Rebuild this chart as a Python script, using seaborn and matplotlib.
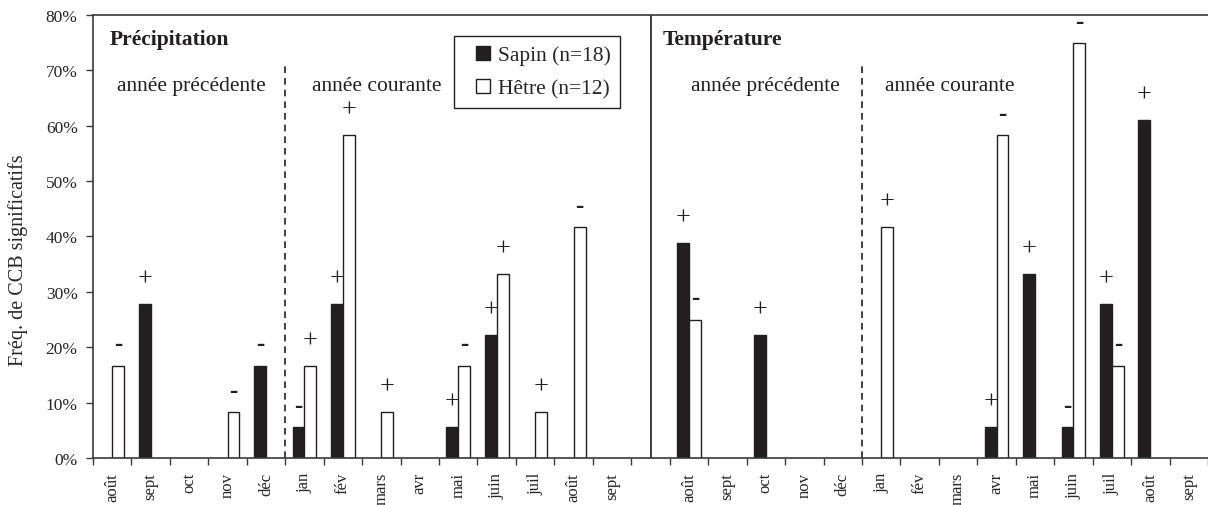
import numpy as np
import pandas as pd
import matplotlib
matplotlib.use("Agg")
import matplotlib.pyplot as plt
from matplotlib.patches import Patch, Rectangle
from matplotlib.legend_handler import HandlerPatch
from matplotlib.ticker import MultipleLocator, FixedLocator, PercentFormatter
import seaborn as sns

# Months of the growth window (previous year Aug -> current year Sept)
months = ["août", "sept", "oct", "nov", "déc", "jan", "fév", "mars", "avr",
          "mai", "juin", "juil", "août", "sept"]

# Frequency (%) of significant response-function coefficients
precip_sapin = [None, 27.8, None, None, 16.7, 5.6, 27.8, None, None, 5.6, 22.2, None, None, None]
precip_hetre = [16.7, None, None, 8.3, None, 16.7, 58.3, 8.3, None, 16.7, 33.3, 8.3, 41.7, None]
temp_sapin = [38.9, None, 22.2, None, None, None, None, None, 5.6, 33.3, 5.6, 27.8, 61.1, None]
temp_hetre = [25.0, None, None, None, None, 41.7, None, None, 58.3, None, 75.0, 16.7, None, None]

# Sign of the coefficients
precip_sapin_sign = ["", "+", "", "", "-", "-", "+", "", "", "+", "+", "", "", ""]
precip_hetre_sign = ["-", "", "", "-", "", "+", "+", "+", "", "-", "+", "+", "-", ""]
temp_sapin_sign = ["+", "", "+", "", "", "", "", "", "+", "+", "-", "+", "+", ""]
temp_hetre_sign = ["-", "", "", "", "", "+", "", "", "-", "", "-", "-", "", ""]

species = ["Sapin (n=18)", "Hêtre (n=12)"]
colors = {"Sapin (n=18)": "#231f20", "Hêtre (n=12)": "white"}

# Two blocks of 14 months separated by one empty slot
gap = 1
n = len(months)
sapin_all = precip_sapin + [None] * gap + temp_sapin
hetre_all = precip_hetre + [None] * gap + temp_hetre
sapin_sign = precip_sapin_sign + [""] * gap + temp_sapin_sign
hetre_sign = precip_hetre_sign + [""] * gap + temp_hetre_sign
labels = months + [""] * gap + months
npos = len(labels)

rows = []
for i in range(npos):
    if sapin_all[i] is not None:
        rows.append({"pos": i, "esp": species[0], "val": sapin_all[i]})
    if hetre_all[i] is not None:
        rows.append({"pos": i, "esp": species[1], "val": hetre_all[i]})
df = pd.DataFrame(rows)

sns.set_style("white")
plt.rcParams["font.family"] = ["Liberation Serif", "DejaVu Serif"]
plt.rcParams["axes.edgecolor"] = "#3a3a3a"

fig = plt.figure(figsize=(12.08, 5.06), dpi=100)
ax = fig.add_axes([93 / 1208, 47 / 506, 1 - 93 / 1208, 443 / 506])

width = 0.62
sns.barplot(data=df, x="pos", y="val", hue="esp", order=list(range(npos)),
            hue_order=species, palette=colors, saturation=1, width=width,
            edgecolor="#231f20", linewidth=1.0, legend=False, ax=ax)

# +/- signs above each bar
half = width / 4
offsets = {"+": 4.6, "-": 3.9}
for i in range(npos):
    for val, sign, dx in ((sapin_all[i], sapin_sign[i], -half),
                          (hetre_all[i], hetre_sign[i], half)):
        if val is None or not sign:
            continue
        ax.text(i + dx, val + offsets[sign], sign, ha="center", va="center",
                fontsize=19 if sign == "+" else 18,
                fontweight="bold" if sign == "-" else "normal",
                color="#231f20")

ax.set_xlim(-0.5, npos - 0.5)
ax.set_ylim(0, 80)
ax.yaxis.set_major_locator(MultipleLocator(10))
ax.yaxis.set_major_formatter(PercentFormatter(decimals=0))
ax.set_xticks(range(npos))
ax.set_xticklabels(labels, rotation=90)
ax.xaxis.set_minor_locator(FixedLocator(np.arange(-0.5, npos, 1)))
ax.tick_params(axis="x", which="major", length=0, pad=10, labelsize=12)
ax.tick_params(axis="x", which="minor", length=5, width=1, color="#3a3a3a",
               direction="out", bottom=True)
ax.tick_params(axis="y", which="major", length=5, width=1, color="#3a3a3a",
               direction="out", left=True, pad=6, labelsize=12.5)
ax.set_xlabel("")
ax.set_ylabel("Fréq. de CCB significatifs", fontsize=14.5)
ax.yaxis.set_label_coords(-0.0583, 0.449)

for side in ("left", "bottom", "top"):
    ax.spines[side].set_visible(True)
    ax.spines[side].set_linewidth(1.2)
ax.spines["right"].set_visible(False)

# Separators: panel divider and previous/current year boundaries
ax.axvline(n - 0.5 + gap / 2, color="#231f20", linewidth=1.2)
for xb in (4.5, n + gap + 4.5):
    ax.plot([xb, xb], [0, 71.3], color="#231f20", linewidth=1.2,
            linestyle=(0, (4, 3)))

txt = dict(fontsize=15.5, color="#231f20")
ax.text(-0.06, 75.6, "Précipitation", fontweight="bold", ha="left", va="center", **txt)
ax.text(n + gap - 0.68, 75.6, "Température", fontweight="bold", ha="left", va="center", **txt)
ax.text(2.05, 67.3, "année précédente", ha="center", va="center", **txt)
ax.text(5.2, 67.3, "année courante", ha="left", va="center", **txt)
ax.text(n + gap + 2.0, 67.3, "année précédente", ha="center", va="center", **txt)
ax.text(n + gap + 5.1, 67.3, "année courante", ha="left", va="center", **txt)


def square_right(legend, orig_handle, xdescent, ydescent, width, height, fontsize):
    # small square swatch pushed to the right end of the handle box
    return Rectangle((-xdescent + width - height, -ydescent), height, height)


handles = [Patch(facecolor=colors[s], edgecolor="#231f20", linewidth=1.0, label=s)
           for s in species]
leg = ax.legend(handles=handles, loc="upper left", bbox_to_anchor=(0.324, 0.953),
                fontsize=15.5, frameon=True, fancybox=False, framealpha=1,
                edgecolor="#231f20", handlelength=1.22, handleheight=0.65,
                handletextpad=0.35, labelspacing=0.64, borderpad=0.45,
                borderaxespad=0,
                handler_map={Patch: HandlerPatch(patch_func=square_right)})
leg.get_frame().set_linewidth(1.0)

fig.savefig("out.png", dpi=100)
